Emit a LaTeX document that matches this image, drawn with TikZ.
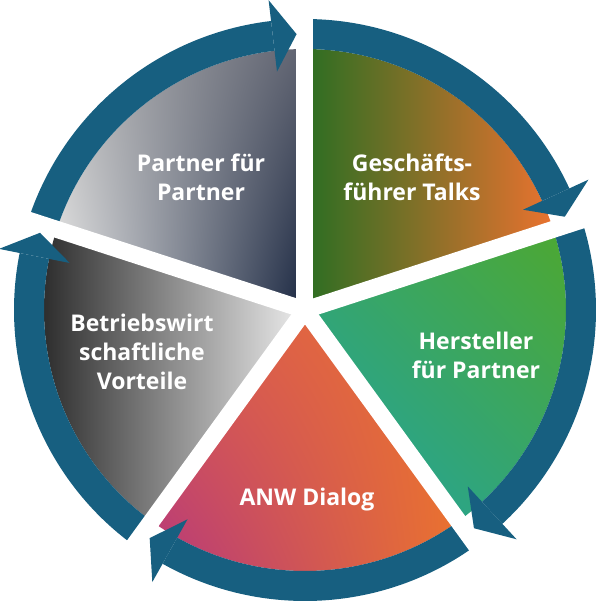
\documentclass[tikz,border=0pt]{standalone}
\usepackage{fontspec}
\setmainfont{Open Sans}
\usetikzlibrary{positioning,shadings}
\definecolor{ringblue}{HTML}{175F80}
\definecolor{navydark}{HTML}{1B2842}
\definecolor{navygrey}{HTML}{5E6270}
\definecolor{greydark}{HTML}{1E1E1E}
\definecolor{greylight}{HTML}{DCDCDC}
\definecolor{greenleaf}{HTML}{2B6E22}
\definecolor{orangewarm}{HTML}{EA722F}
\definecolor{orangered}{HTML}{D95A52}
\definecolor{greenlime}{HTML}{4FA82C}
\definecolor{tealsea}{HTML}{1FA3A6}
\definecolor{magentarose}{HTML}{B3367F}

\begin{document}
\begin{tikzpicture}[
x = 1pt, y = 1pt,
every node/.style = {
	font = \bfseries\fontsize{23}{29}\selectfont,
	text = white,
	align = center
},
gap/.style = {
	white,
	line width = 17pt
},
ringarrow/.style = {
	fill = ringblue
}
]
\useasboundingbox (-305,-296) rectangle (295,310);

% segments
\shade[upper left=greylight!85!black, lower left=greylight!60!white,
	upper right=navygrey, lower right=navydark]
	(0,0) -- (90:261) arc[start angle=90, end angle=162, radius=261] -- cycle;
\shade[left color=greenleaf, right color=orangewarm]
	(0,0) -- (18:261) arc[start angle=18, end angle=90, radius=261] -- cycle;
\shade[upper right=greenlime, lower left=tealsea,
	upper left=greenlime!50!tealsea, lower right=greenlime!50!tealsea]
	(0,0) -- (-54:261) arc[start angle=-54, end angle=18, radius=261] -- cycle;
\shade[upper left=orangered, lower left=magentarose,
	upper right=orangewarm, lower right=orangewarm]
	(0,0) -- (-126:261) arc[start angle=-126, end angle=-54, radius=261] -- cycle;
\shade[left color=greydark, right color=greylight!50!white]
	(0,0) -- (162:261) arc[start angle=162, end angle=234, radius=261] -- cycle;

% ring shafts
\foreach \g in {90,18,-54,-126,-198} {
	\fill[ringarrow] (\g:261) arc[start angle=\g, end angle={\g-65.3}, radius=261]
		-- ({\g-65.3}:291) arc[start angle={\g-65.3}, end angle=\g, radius=291] -- cycle;
}

% gaps
\foreach \g in {90,18,-54,-126,-198}
	\draw[gap] (0,0) -- (\g:330);

% arrow heads
\foreach \g in {90,18,-54,-126,-198}
	\fill[ringarrow] ({\g-70.25}:276) -- ({\g-65.3}:312) -- ({\g-65.3}:240) -- cycle;

\node (pfp) at (-104,133) {Partner für\\Partner};
\node (gft) at (107,133) {Geschäfts-\\führer Talks};
\node (hfp) at (171,-45) {Hersteller\\für Partner};
\node (anw) at (2,-190) {ANW Dialog};
\node (bwv) at (-163,-42) {Betriebswirt\\schaftliche\\Vorteile};

\end{tikzpicture}
\end{document}
